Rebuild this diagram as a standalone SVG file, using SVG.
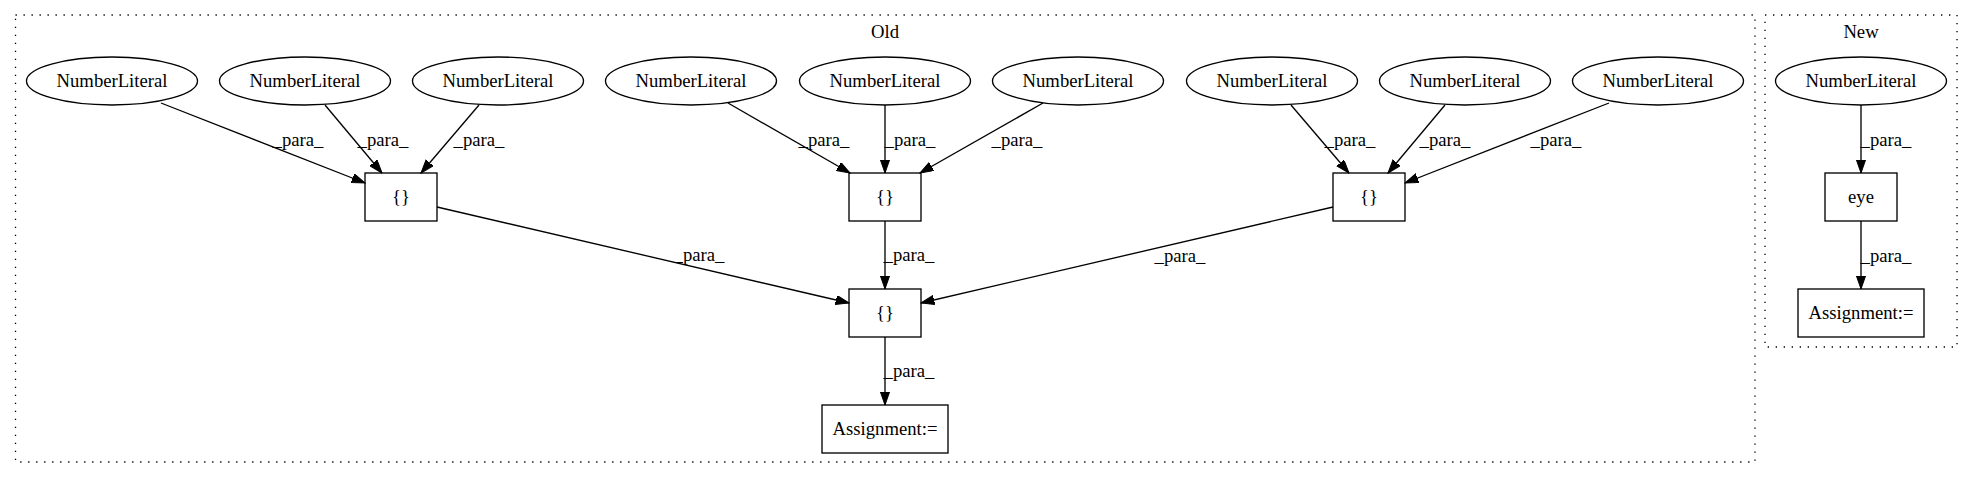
<svg xmlns="http://www.w3.org/2000/svg" width="1973" height="480" viewBox="0 0 1973 480">
<defs>
<marker id="arr" markerUnits="userSpaceOnUse" markerWidth="14" markerHeight="10" refX="13.3" refY="4.67" orient="auto">
<path d="M0,0 L13.3,4.67 L0,9.33 z" fill="#000" stroke="#000" stroke-width="1"/>
</marker>
<style>
text{font-family:"Liberation Serif","Times New Roman",serif;font-size:18.67px;fill:#000;text-anchor:middle}
.cl{fill:none;stroke:#000;stroke-width:1.33;stroke-dasharray:1.33,6.67}
.n{fill:#fff;stroke:#000;stroke-width:1.33}
.e line{stroke:#000;stroke-width:1.33;marker-end:url(#arr)}
</style>
</defs>
<rect width="1973" height="480" fill="#fff"/>
<g id="cluster_old">
<rect class="cl" x="15.5" y="15" width="1739.5" height="447"/>
<text x="885" y="38">Old</text>
</g>
<g id="cluster_new">
<rect class="cl" x="1765" y="15" width="192" height="332"/>
<text x="1861" y="38">New</text>
</g>
<g id="nl1"><ellipse class="n" cx="112" cy="81" rx="85.5" ry="24"/><text x="112" y="87">NumberLiteral</text></g>
<g id="nl2"><ellipse class="n" cx="305" cy="81" rx="85.5" ry="24"/><text x="305" y="87">NumberLiteral</text></g>
<g id="nl3"><ellipse class="n" cx="498" cy="81" rx="85.5" ry="24"/><text x="498" y="87">NumberLiteral</text></g>
<g id="nl4"><ellipse class="n" cx="691" cy="81" rx="85.5" ry="24"/><text x="691" y="87">NumberLiteral</text></g>
<g id="nl5"><ellipse class="n" cx="885" cy="81" rx="85.5" ry="24"/><text x="885" y="87">NumberLiteral</text></g>
<g id="nl6"><ellipse class="n" cx="1078" cy="81" rx="85.5" ry="24"/><text x="1078" y="87">NumberLiteral</text></g>
<g id="nl7"><ellipse class="n" cx="1272" cy="81" rx="85.5" ry="24"/><text x="1272" y="87">NumberLiteral</text></g>
<g id="nl8"><ellipse class="n" cx="1465" cy="81" rx="85.5" ry="24"/><text x="1465" y="87">NumberLiteral</text></g>
<g id="nl9"><ellipse class="n" cx="1658" cy="81" rx="85.5" ry="24"/><text x="1658" y="87">NumberLiteral</text></g>
<g id="b1"><rect class="n" x="365" y="173" width="72" height="48"/><text x="401" y="203">{}</text></g>
<g id="b2"><rect class="n" x="849" y="173" width="72" height="48"/><text x="885" y="203">{}</text></g>
<g id="b3"><rect class="n" x="1333" y="173" width="72" height="48"/><text x="1369" y="203">{}</text></g>
<g id="bc"><rect class="n" x="849" y="289" width="72" height="48"/><text x="885" y="319">{}</text></g>
<g id="asg_old"><rect class="n" x="822" y="405" width="126" height="48"/><text x="885" y="435">Assignment:=</text></g>
<g id="nl_new"><ellipse class="n" cx="1861" cy="81" rx="85.5" ry="24"/><text x="1861" y="87">NumberLiteral</text></g>
<g id="eye"><rect class="n" x="1825" y="173" width="72" height="48"/><text x="1861" y="203">eye</text></g>
<g id="asg_new"><rect class="n" x="1798" y="289" width="126" height="48"/><text x="1861" y="319">Assignment:=</text></g>
<g id="edges" class="e">
<line x1="161" y1="103" x2="365" y2="183"/>
<line x1="325" y1="105" x2="382" y2="173"/>
<line x1="479" y1="105" x2="421" y2="173"/>
<line x1="728" y1="103" x2="850" y2="173"/>
<line x1="885" y1="105" x2="885" y2="173"/>
<line x1="1043" y1="103" x2="920" y2="173"/>
<line x1="1291" y1="105" x2="1349" y2="173"/>
<line x1="1445" y1="105" x2="1388" y2="173"/>
<line x1="1609" y1="103" x2="1405" y2="183"/>
<line x1="437" y1="207" x2="849" y2="303"/>
<line x1="885" y1="221" x2="885" y2="289"/>
<line x1="1333" y1="207" x2="921" y2="303"/>
<line x1="885" y1="337" x2="885" y2="405"/>
<line x1="1861" y1="105" x2="1861" y2="173"/>
<line x1="1861" y1="221" x2="1861" y2="289"/>
<text x="298" y="146">_para_</text>
<text x="383" y="146">_para_</text>
<text x="479" y="146">_para_</text>
<text x="824" y="146">_para_</text>
<text x="910" y="146">_para_</text>
<text x="1017" y="146">_para_</text>
<text x="1350" y="146">_para_</text>
<text x="1445" y="146">_para_</text>
<text x="1556" y="146">_para_</text>
<text x="699" y="261">_para_</text>
<text x="909" y="261">_para_</text>
<text x="1180" y="262">_para_</text>
<text x="909" y="377">_para_</text>
<text x="1886" y="146">_para_</text>
<text x="1886" y="262">_para_</text>
</g>
</svg>
